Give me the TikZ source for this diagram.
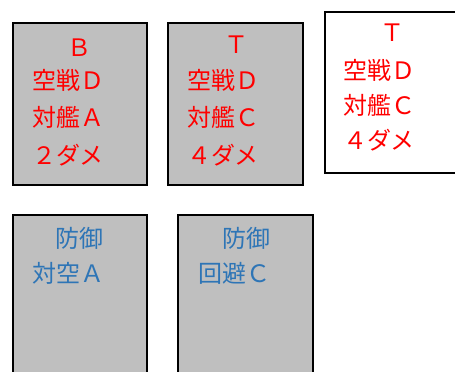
\documentclass[tikz,border=0pt]{standalone}
\usepackage{fontspec}
\usepackage{xcolor}
\newfontfamily\cjk{Noto Sans CJK JP}
\definecolor{cardgray}{RGB}{191,191,191}
\definecolor{skillred}{RGB}{255,0,0}
\definecolor{skillblue}{RGB}{46,117,182}
\tikzset{
  card/.style={draw, line width=1.5pt},
  redtxt/.style={text=skillred, anchor=west, font=\cjk\fontsize{18}{22}\selectfont, inner sep=0pt},
  bluetxt/.style={text=skillblue, anchor=west, font=\cjk\fontsize{18}{22}\selectfont, inner sep=0pt}
}
\begin{document}
\begin{tikzpicture}[x=0.75pt, y=-0.75pt]
        \useasboundingbox (0,0) rectangle (455,372);
        \clip (0,0) rectangle (455,372);

        % Upper cards
        \draw[card, fill=cardgray] (13,23) rectangle (147,185);
        \draw[card, fill=cardgray] (168,23) rectangle (303,185);
        \draw[card, fill=white] (325,12) rectangle (470,173);

        \node[redtxt, anchor=center] (b1) at (80,48) {Ｂ};
        \node[redtxt] (b2) at (32,80) {空戦Ｄ};
        \node[redtxt] (b3) at (32,117) {対艦Ａ};
        \node[redtxt] (b4) at (32,155) {２ダメ};

        \node[redtxt, anchor=center] (t1) at (236,45) {Ｔ};
        \node[redtxt] (t2) at (187,80) {空戦Ｄ};
        \node[redtxt] (t3) at (187,117) {対艦Ｃ};
        \node[redtxt] (t4) at (187,155) {４ダメ};

        \node[redtxt, anchor=center] (u1) at (393,33) {Ｔ};
        \node[redtxt] (u2) at (343,70) {空戦Ｄ};
        \node[redtxt] (u3) at (343,105) {対艦Ｃ};
        \node[redtxt] (u4) at (343,140) {４ダメ};

        % Lower cards
        \draw[card, fill=cardgray] (13,215) rectangle (147,390);
        \draw[card, fill=cardgray] (178,215) rectangle (313,390);

        \node[bluetxt] (d1) at (55,238) {防御};
        \node[bluetxt] (d2) at (32,273) {対空Ａ};

        \node[bluetxt] (e1) at (222,238) {防御};
        \node[bluetxt] (e2) at (198,273) {回避Ｃ};

    \end{tikzpicture}
\end{document}
